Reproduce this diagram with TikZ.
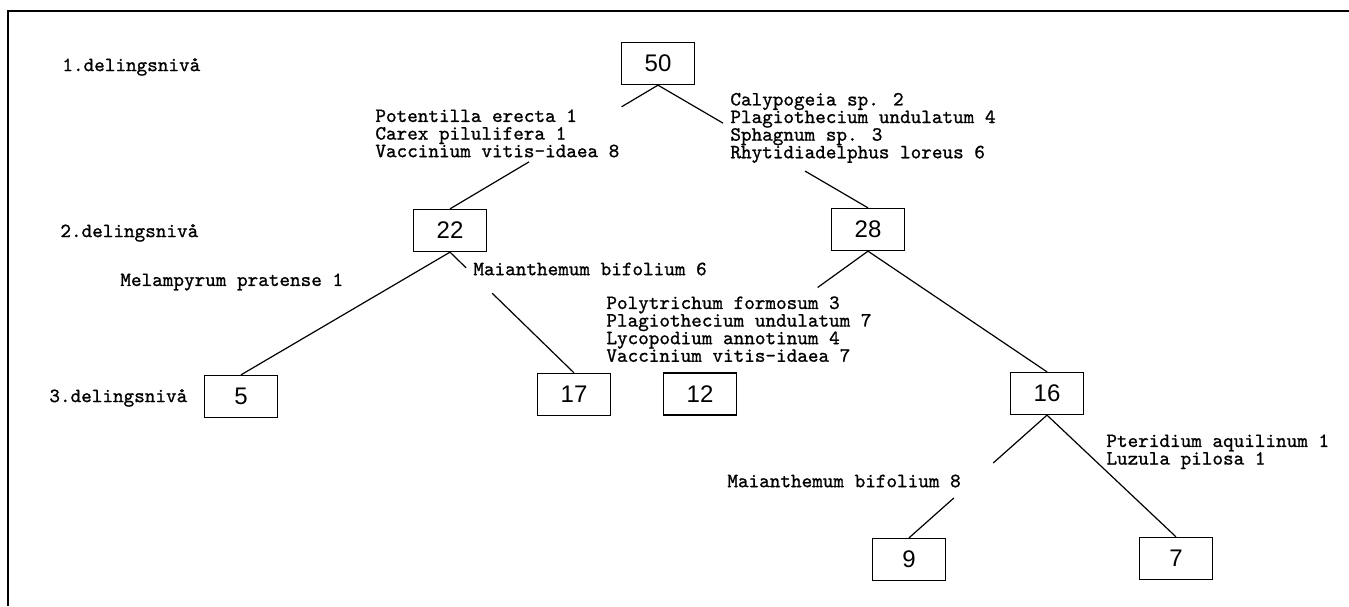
\documentclass[tikz,border=0pt]{standalone}
\usepackage{fontspec}
\setmainfont{Liberation Sans}
\newfontfamily\artfont{Latin Modern Mono}[FakeBold=1]
\usetikzlibrary{calc}
\tikzset{
boks/.style={draw, line width=0.65pt, minimum width=36.5pt, minimum height=21pt, inner sep=0pt, font=\fontsize{12}{14}\selectfont},
art/.style={font=\artfont\fontsize{10.1}{8.8}\selectfont, inner sep=0pt, align=left},
kant/.style={line width=0.6pt}
}
\begin{document}
\begin{tikzpicture}[x=0.5pt,y=-0.5pt]
\useasboundingbox (0,0) rectangle (1349,606);
\draw[line width=1.4pt] (1349,11) -- (8,11) -- (8,606);
% nivaaer
\node[art, anchor=west] (niva1) at (62,67) {1.delingsnivå};
\node[art, anchor=west] (niva2) at (60,233) {2.delingsnivå};
\node[art, anchor=west] (niva3) at (49,398) {3.delingsnivå};
% bokser
\foreach \navn/\x/\y/\antall in {p50/658/63.5/50, p22/450/230.5/22, p28/868/229.5/28, p5/241/396.5/5, p17/574/394.5/17, p12/700/394/12, p16/1047/393.5/16, p9/909/559.5/9, p7/1176/558.5/7}{
\node[boks] (\navn) at (\x,\y) {\antall};
}
% arter
\node[art, anchor=north west] (a22) at (375,109) {Potentilla erecta 1\\Carex pilulifera 1\\Vaccinium vitis-idaea 8};
\node[art, anchor=north west] (a28) at (730,92.5) {Calypogeia sp. 2\\Plagiothecium undulatum 4\\Sphagnum sp. 3\\Rhytidiadelphus loreus 6};
\node[art, anchor=west] (a17) at (473,269) {Maianthemum bifolium 6};
\node[art, anchor=west] (a5) at (120,282) {Melampyrum pratense 1};
\node[art, anchor=north west] (a12) at (606,296) {Polytrichum formosum 3\\Plagiothecium undulatum 7\\Lycopodium annotinum 4\\Vaccinium vitis-idaea 7};
\node[art, anchor=west] (a9) at (727,481) {Maianthemum bifolium 8};
\node[art, anchor=north west] (a7) at (1106,434) {Pteridium aquilinum 1\\Luzula pilosa 1};
% linjer
\foreach \fra/\til in {p22/p5, p28/p16, p16/p7}{
\draw[kant] (\fra.south) -- (\til.north);
}
\foreach \fra/\til/\a/\b in {p50/p22/0.175/0.62, p50/p28/0.31/0.70, p22/p17/0.13/0.34, p16/p9/0.39/0.675}{
\draw[kant] (\fra.south) -- ($(\fra.south)!\a!(\til.north)$);
\draw[kant] ($(\fra.south)!\b!(\til.north)$) -- (\til.north);
}
\draw[kant] (p28.south) -- ($(p28.south)!0.3!(p12.north)$);
\end{tikzpicture}
\end{document}
